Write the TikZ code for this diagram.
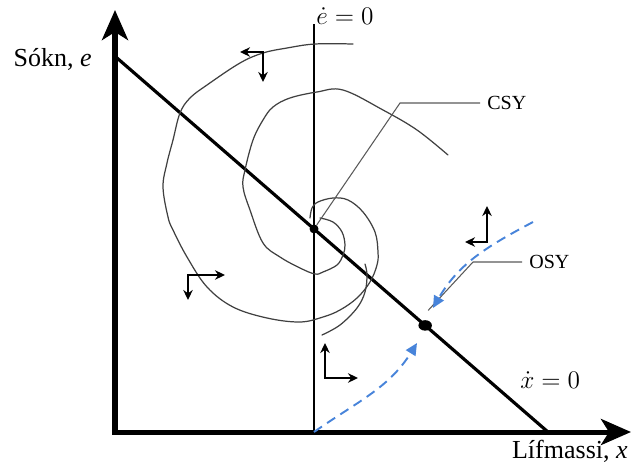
\documentclass[tikz,border=0pt]{standalone}
\usepackage{fontspec}
\setmainfont{Liberation Serif}
\usetikzlibrary{arrows.meta,calc,shapes.geometric}
\definecolor{saddle}{RGB}{72,132,218}
\begin{document}
\begin{tikzpicture}
\tikzstyle{axis}=[line width=2.85pt,{Stealth[length=6mm,width=5.2mm,inset=1.6mm]}-{Stealth[length=6mm,width=5.2mm,inset=1.6mm]}]
\tikzstyle{nullc}=[line width=1.8pt]
\tikzstyle{orbit}=[line width=0.7pt,black!75,line cap=round]
\tikzstyle{flow}=[line width=1.3pt,{Stealth[length=2mm,width=1.9mm]}-{Stealth[length=2mm,width=1.9mm]}]
\tikzstyle{saddlepath}=[line width=1.1pt,saddle,dash pattern=on 5.5pt off 3.5pt,-{Triangle[length=2.4mm,width=2.2mm]}]
\tikzstyle{leader}=[line width=0.6pt,black!65]
\tikzstyle{lbl}=[inner sep=4pt,font=\fontsize{11.4}{13}\selectfont]
\tikzstyle{axlbl}=[inner sep=0pt,font=\fontsize{14.8}{17}\selectfont]
\useasboundingbox (-2.3,-0.76) rectangle (10.34,8.64);

% axes
\coordinate (org) at (0,0);
\coordinate (ytip) at (0,8.44);
\coordinate (xtip) at (10.32,0);
\draw[axis] (ytip) -- (org) -- (xtip);
\node[axlbl,anchor=east] (ylab) at (-0.46,7.46) {Sókn, \textit{e}};
\node[axlbl,anchor=base east] (xlab) at (10.26,-0.52) {Lífmassi, \textit{x}};

% nullclines
\coordinate (etop) at (3.98,8.16);
\coordinate (ebot) at (3.98,0);
\coordinate (xtop) at (0.04,7.48);
\coordinate (xbot) at (8.66,0);
\draw[line width=1.4pt] (ebot) -- (etop);
\draw[nullc] (xtop) -- (xbot);
\node[axlbl,anchor=base west] (edot) at (4.02,8.16) {$\dot{e}=0$};
\node[axlbl,anchor=base west] (xdot) at (8.1,0.88) {$\dot{x}=0$};

% spiral (CSY)
\draw[orbit] plot[smooth,tension=0.6] coordinates {(4.76,7.76) (4.0,7.76) (3.44,7.68) (2.96,7.58) (2.5,7.38) (1.84,6.94) (1.5,6.68) (1.3,6.38) (1.16,5.84) (1.04,5.38) (0.96,4.9) (1.06,4.3) (1.16,4.04) (1.44,3.5) (1.84,2.9) (2.36,2.5) (3.04,2.28) (3.7,2.2) (4.16,2.3) (4.5,2.44) (4.84,2.68) (5.1,3.0) (5.24,3.34) (5.26,3.6) (5.2,4.0) (4.96,4.4) (4.66,4.64) (4.36,4.68) (4.06,4.6) (3.94,4.48) (3.9,4.28)};
\draw[orbit] plot[smooth,tension=0.6] coordinates {(6.66,5.54) (6.04,6.04) (5.36,6.44) (4.56,6.84) (4.04,6.8) (3.5,6.68) (3.16,6.5) (2.96,6.24) (2.76,5.84) (2.6,5.24) (2.56,4.9) (2.7,4.44) (2.96,3.78) (3.3,3.5) (3.7,3.28) (4.0,3.16) (4.16,3.2) (4.44,3.34) (4.56,3.54) (4.6,3.74) (4.54,4.0) (4.36,4.2) (4.1,4.28)};
\draw[orbit] plot[smooth,tension=0.6] coordinates {(4.14,1.94) (4.5,2.14) (4.84,2.48) (5.0,2.8) (5.04,3.14) (5.0,3.36)};

% steady states
\node[circle,fill,minimum size=0.18cm,inner sep=0] (cdot) at (intersection of xtop--xbot and etop--ebot) {};
\node[ellipse,fill,minimum width=0.27cm,minimum height=0.21cm,inner sep=0] (odot) at ($(xtop)!0.715!(xbot)$) {};

% labels
\node[lbl,anchor=west] (csy) at (7.3,6.58) {CSY};
\node[lbl,anchor=west] (osy) at (8.14,3.4) {OSY};
\draw[leader] (csy.west) -- ++(-1.6,0) -- (cdot);
\draw[leader] (osy.west) -- ++(-0.98,0) -- ($(odot)+(0.06,0.3)$);

% saddle path (OSY)
\coordinate (sp1) at (3.98,0);
\coordinate (sp1e) at (6.04,1.78);
\coordinate (sp2) at (8.36,4.2);
\coordinate (sp2e) at (6.36,2.48);
\draw[saddlepath] (sp1) to[out=35,in=238] (sp1e);
\draw[saddlepath] (sp2) to[out=208,in=60] (sp2e);

% direction arrows
\foreach \cx/\cy/\hx/\vy in {2.96/7.6/-0.46/-0.6, 1.46/3.14/0.74/-0.5, 4.2/1.08/0.66/0.7, 7.44/3.8/-0.44/0.72}
  \draw[flow] (\cx,\cy) ++(\hx,0) -- (\cx,\cy) -- ++(0,\vy);
\end{tikzpicture}
\end{document}
